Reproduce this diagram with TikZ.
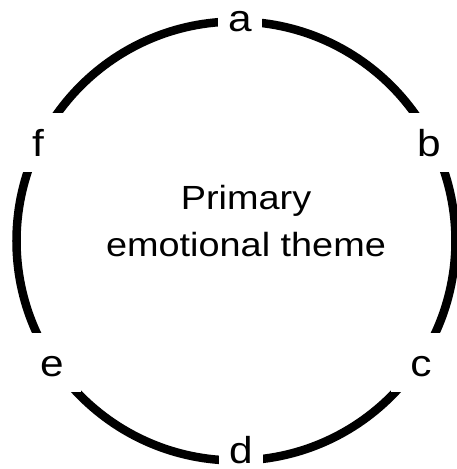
\documentclass[tikz,border=0pt]{standalone}
\usepackage{fontspec}
\setmainfont{Liberation Sans}[FakeStretch=1.13]
\usepackage{tikz}

\begin{document}
\begin{tikzpicture}[x=1pt,y=1pt,
  lbl/.style={fill=white,inner sep=0pt,text height=28pt,text depth=0pt,
    minimum height=59pt,minimum width=59pt,font=\fontsize{37.5}{45}\selectfont}]
  \useasboundingbox (-236,-228) rectangle (220,241);
  \draw[line width=8.5pt] (0,0) circle (219.5pt);
  \node[lbl,minimum width=44pt,minimum height=34pt] (a) at (4,223) {a};
  \node[lbl] (b) at (193,98.5) {b};
  \node[lbl] (c) at (185,-121.5) {c};
  \node[lbl,minimum width=44pt,minimum height=34pt] (d) at (5,-208) {d};
  \node[lbl] (e) at (-184,-121.5) {e};
  \node[lbl] (f) at (-198,98.5) {f};
  \node[align=center,font=\fontsize{33.5}{47}\selectfont] (theme) at (10,19.6)
    {Primary\\emotional theme};
\end{tikzpicture}
\end{document}
